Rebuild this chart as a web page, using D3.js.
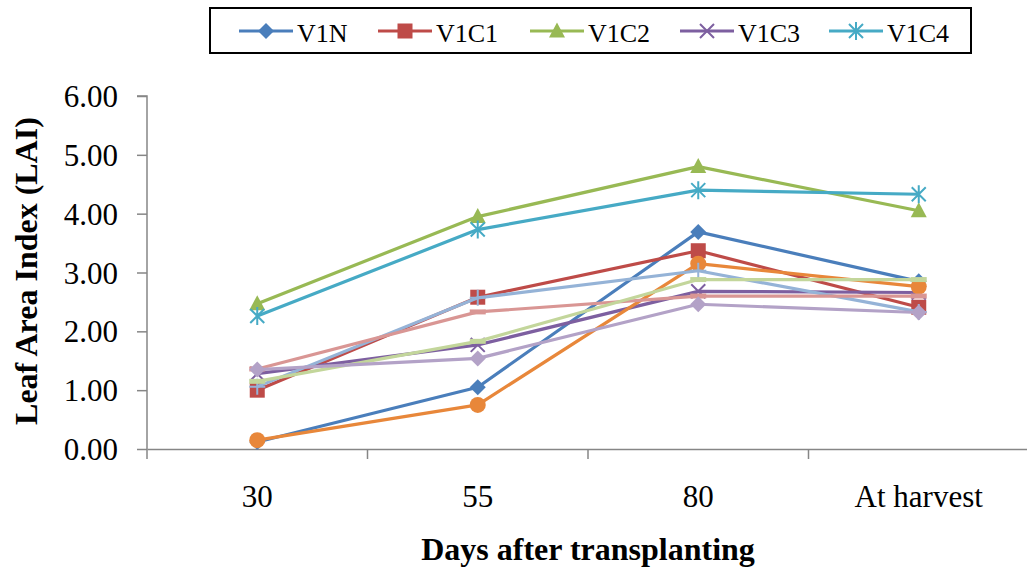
<!DOCTYPE html>
<html><head><meta charset="utf-8">
<script src="https://cdn.jsdelivr.net/npm/d3@7"></script>
<style>body{margin:0;background:#fff}svg{display:block}svg text{font-family:"Times New Roman","Liberation Serif",Tinos,serif !important}</style>
</head><body><svg id="c" width="1027" height="571"></svg>
<script>
const categories = ["30", "55", "80", "At harvest"];
const yTicks = [0, 1, 2, 3, 4, 5, 6];
const seriesNames = ["V1N", "V1C1", "V1C2", "V1C3", "V1C4", "S6", "S7", "S8", "S9", "S10"];
const legendNames = ["V1N", "V1C1", "V1C2", "V1C3", "V1C4"];
const v1n  = [0.12, 1.05, 3.69, 2.85];
const v1c1 = [1.00, 2.58, 3.37, 2.41];
const v1c2 = [2.47, 3.95, 4.80, 4.05];
const v1c3 = [1.28, 1.77, 2.68, 2.66];
const v1c4 = [2.26, 3.73, 4.40, 4.33];
const s6   = [0.15, 0.75, 3.15, 2.76];
const s7   = [1.06, 2.57, 3.03, 2.33];
const s8   = [1.36, 2.33, 2.60, 2.60];
const s9   = [1.15, 1.83, 2.88, 2.88];
const s10  = [1.35, 1.54, 2.46, 2.32];
const values = [v1n, v1c1, v1c2, v1c3, v1c4, s6, s7, s8, s9, s10];
const colors = ["#4A7EBB", "#BE4B48", "#98B954", "#7D5FA0", "#46AAC5", "#E8873A", "#95B3D7", "#D99694", "#C3D69B", "#B3A2C7"];
const markers = ["diamond", "square", "triangle", "x", "star", "circle", "plus", "dash", "dash", "diamond"];

const svg = d3.select("#c");
const m = {l: 147, r: 1029, t: 96, b: 449};
const x = d3.scaleBand().domain(categories).range([m.l, m.r]);
const y = d3.scaleLinear().domain([0, 6]).range([m.b, m.t]);
const FONT = '"Times New Roman","Liberation Serif",serif';

// axes
const yAx = svg.append("g").attr("transform", `translate(${m.l},0)`)
  .call(d3.axisLeft(y).tickValues(yTicks).tickSize(10).tickFormat(d3.format(".2f")));
yAx.attr("font-family", FONT);
yAx.select(".domain").attr("stroke", "#868686").attr("stroke-width", 1.5).attr("d", `M-10,${m.t}H0V${m.b}`);
yAx.selectAll(".tick line").attr("stroke", "#868686").attr("stroke-width", 1.5);
yAx.selectAll(".tick text").attr("font-size", 31).attr("fill", "#000").attr("x", -29).attr("dy", "0.34em");

const xAx = svg.append("g").attr("transform", `translate(0,${m.b})`)
  .call(d3.axisBottom(x).tickSize(0));
xAx.attr("font-family", FONT);
xAx.select(".domain").attr("stroke", "#868686").attr("stroke-width", 1.5);
xAx.selectAll(".tick text").attr("font-size", 31).attr("fill", "#000").attr("y", 58).attr("dy", 0);
const bounds = categories.map(c => x(c)).concat([m.r]);
xAx.selectAll(".bt").data(bounds).enter().append("line")
  .attr("x1", d => d).attr("x2", d => d).attr("y1", 0).attr("y2", 10)
  .attr("stroke", "#868686").attr("stroke-width", 1.5);

// titles
svg.append("text").attr("transform", `translate(37,${271}) rotate(-90)`)
  .attr("text-anchor", "middle").attr("font-size", 32).attr("font-weight", "bold").text("Leaf Area Index (LAI)");
svg.append("text").attr("x", 588).attr("y", 560).attr("text-anchor", "middle")
  .attr("font-size", 32).attr("font-weight", "bold").text("Days after transplanting");

function drawMarker(g, type, color, cx, cy) {
  const s = 8;
  if (type === "diamond") g.append("path").attr("d", `M${cx},${cy - s}L${cx + s},${cy}L${cx},${cy + s}L${cx - s},${cy}Z`).attr("fill", color);
  else if (type === "square") g.append("rect").attr("x", cx - 7.5).attr("y", cy - 7.5).attr("width", 15).attr("height", 15).attr("fill", color);
  else if (type === "triangle") g.append("path").attr("d", `M${cx},${cy - 8.5}L${cx + 8},${cy + 6.5}L${cx - 8},${cy + 6.5}Z`).attr("fill", color);
  else if (type === "circle") g.append("circle").attr("cx", cx).attr("cy", cy).attr("r", 8).attr("fill", color);
  else if (type === "x") g.append("path").attr("d", `M${cx - 7},${cy - 7}L${cx + 7},${cy + 7}M${cx - 7},${cy + 7}L${cx + 7},${cy - 7}`).attr("stroke", color).attr("stroke-width", 2);
  else if (type === "star") g.append("path").attr("d", `M${cx - 7},${cy - 7}L${cx + 7},${cy + 7}M${cx - 7},${cy + 7}L${cx + 7},${cy - 7}M${cx},${cy - 9}V${cy + 9}`).attr("stroke", color).attr("stroke-width", 2);
  else if (type === "plus") g.append("path").attr("d", `M${cx - 8},${cy}H${cx + 8}M${cx},${cy - 8}V${cy + 8}`).attr("stroke", color).attr("stroke-width", 2);
  else if (type === "dash") g.append("path").attr("d", `M${cx - 8},${cy}H${cx + 8}`).attr("stroke", color).attr("stroke-width", 5);
}

const line = d3.line().x((d, i) => x(categories[i]) + x.bandwidth() / 2).y(d => y(d));
const plot = svg.append("g");
values.forEach((vals, si) => {
  const g = plot.append("g");
  g.append("path").attr("d", line(vals)).attr("fill", "none").attr("stroke", colors[si]).attr("stroke-width", 3.2).attr("stroke-linejoin", "round");
  vals.forEach((v, i) => drawMarker(g, markers[si], colors[si], x(categories[i]) + x.bandwidth() / 2, y(v)));
});

// legend
const lg = svg.append("g");
lg.append("rect").attr("x", 210).attr("y", 8).attr("width", 761).attr("height", 45).attr("fill", "#fff").attr("stroke", "#000").attr("stroke-width", 2);
const lx = [239, 378, 530, 680, 829];
legendNames.forEach((n, i) => {
  const g = lg.append("g");
  g.append("line").attr("x1", lx[i]).attr("x2", lx[i] + 54).attr("y1", 31).attr("y2", 31).attr("stroke", colors[i]).attr("stroke-width", 3.2);
  drawMarker(g, markers[i], colors[i], lx[i] + 27, 31);
  g.append("text").attr("x", lx[i] + 58).attr("y", 42).attr("font-size", 26).text(n);
});
</script></body></html>
